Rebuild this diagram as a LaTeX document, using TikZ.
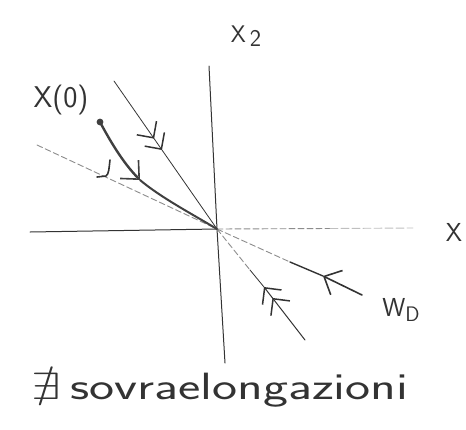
\documentclass[tikz,border=0pt]{standalone}
\usepackage{amssymb}
\usetikzlibrary{arrows.meta}
\begin{document}
\begin{tikzpicture}[x=1pt,y=-1pt, line cap=round, line join=round,
 ink/.style={draw=black!80, line width=1pt},
 faint/.style={draw=black!45, line width=0.9pt, dash pattern=on 6pt off 3pt},
 fainter/.style={draw=black!25, line width=0.9pt, dash pattern=on 8pt off 3pt},
 traj/.style={draw=black!75, line width=2.4pt},
 barb/.style={-{Straight Barb[length=14pt,width=27pt,line width=1.6pt]}},
 dbarb/.style={-{Straight Barb[length=12pt,width=24pt,line width=1.5pt]Straight Barb[length=12pt,width=24pt,line width=1.5pt]}},
 lbl/.style={font=\sffamily\fontsize{26}{26}\selectfont, text=black!80, inner sep=0pt}]
\useasboundingbox (0,0) rectangle (466,429);
% coordinates
\coordinate (O) at (217,229);
\coordinate (vtop) at (209,66);
\coordinate (vbot) at (225,363);
\coordinate (hleft) at (30,232);
\coordinate (hright) at (413,228);
\coordinate (ftop) at (114,81);
\coordinate (fmark) at (162,150);
\coordinate (fmid) at (250,270);
\coordinate (fbot) at (305,340);
\coordinate (fmark2) at (264,287);
\coordinate (sleft) at (37,145);
\coordinate (smid) at (290,262);
\coordinate (sright) at (362,295);
\coordinate (smark) at (323,276);
\coordinate (x0) at (100,122);
\coordinate (tmark) at (140,180);
% axes
\draw[ink] (vtop) -- (O) -- (vbot);
\draw[ink] (hleft) -- (O);
\draw[faint] (O) -- (330,228.5);
\draw[fainter] (330,228.5) -- (hright);
% fast eigen-direction (double arrows)
\draw[ink, line width=0.8pt, dbarb] (ftop) -- (fmark);
\draw[ink, line width=0.8pt] (fmark) -- (O);
\draw[faint] (O) -- (fmid);
\draw[ink, line width=0.8pt] (fmid) -- (fmark2);
\draw[ink, line width=1pt, dbarb] (fbot) -- (fmark2);
% slow eigen-direction W_D
\draw[faint] (sleft) -- (O);
\draw[faint] (O) -- (smid);
\draw[ink, line width=1.4pt] (smid) -- (smark);
\draw[ink, line width=1.6pt, barb] (sright) -- (smark);
\draw[ink, line width=1.6pt] (110,160) .. controls (109,168) and (109,174) .. (106,176) -- (97,177);
% trajectory
\fill[black!75] (x0) circle (3.4pt);
\draw[traj, -{Straight Barb[length=14pt,width=26pt,line width=1.6pt]}] (x0) .. controls (108,137) and (122,162) .. (tmark);
\draw[traj, line width=2pt] (tmark) .. controls (160,197) and (192,214) .. (O);
% labels
\node[lbl, font=\sffamily\fontsize{30}{30}\selectfont] (x0lbl) at (61,100) {X(0)};
\node[lbl, font=\sffamily\fontsize{24}{24}\selectfont] (x2lbl) at (246,36) {X\,\raisebox{-0.35ex}{2}};
\node[lbl] (x1lbl) at (454,232) {X};
\node[lbl] (wd) at (401,310) {W\raisebox{-0.45ex}{\fontsize{21}{21}\selectfont D}};
\node[lbl, font=\sffamily\fontsize{38}{38}\selectfont] (cap) at (220,390) {\scalebox{1.4}[1]{$\nexists$\,sovraelongazioni}};
\end{tikzpicture}
\end{document}
